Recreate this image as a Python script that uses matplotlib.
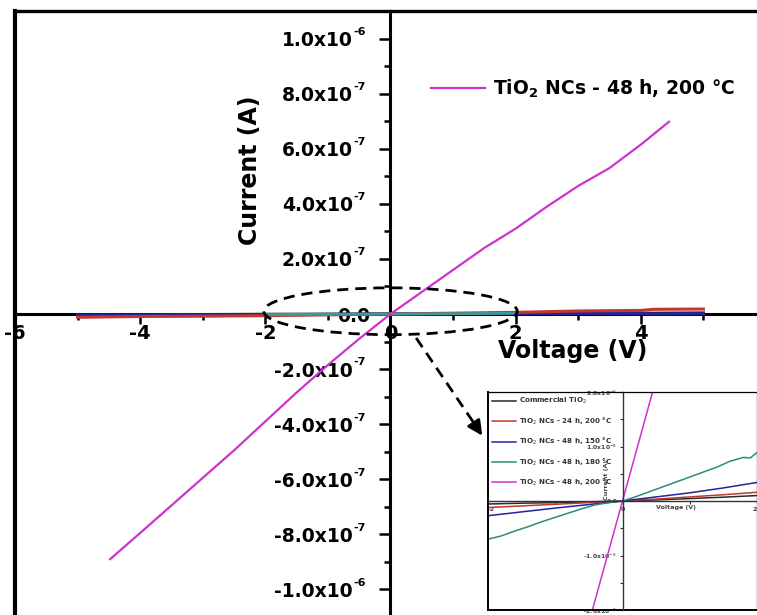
import matplotlib
matplotlib.use('Agg')
import matplotlib.pyplot as plt
from matplotlib.patches import Ellipse
from matplotlib.ticker import MultipleLocator
from matplotlib.transforms import ScaledTranslation

plt.rcParams['font.family'] = 'DejaVu Sans'
plt.rcParams['mathtext.fontset'] = 'dejavusans'

# ---------------------------------------------------------------------------
# Data (voltage in V, current in A)
# ---------------------------------------------------------------------------
# main panel
v_48h_200 = [-4.48, -4.0, -3.5, -3.0, -2.5, -2.0, -1.5, -1.0, -0.5, 0.0,
             0.5, 1.0, 1.5, 2.0, 2.5, 3.0, 3.5, 4.0, 4.45]
i_48h_200 = [-8.9e-7, -7.95e-7, -6.95e-7, -5.95e-7, -4.95e-7, -3.9e-7, -2.85e-7,
             -1.85e-7, -0.9e-7, 0.0, 0.8e-7, 1.6e-7, 2.4e-7, 3.1e-7, 3.9e-7,
             4.65e-7, 5.3e-7, 6.15e-7, 6.98e-7]

v_wide = [-5, -4, -3, -2, -1, 0, 1, 2, 3, 4, 4.2, 5]
i_commercial = [-0.3e-8, -0.25e-8, -0.2e-8, -0.1e-8, -0.05e-8, 0.0, 0.05e-8,
                0.1e-8, 0.2e-8, 0.3e-8, 0.3e-8, 0.4e-8]
i_24h_200 = [-1.2e-8, -0.9e-8, -0.8e-8, -0.6e-8, -0.3e-8, 0.0, 0.3e-8,
             0.6e-8, 1.1e-8, 1.3e-8, 1.7e-8, 1.8e-8]
i_48h_150 = [-0.6e-8, -0.5e-8, -0.4e-8, -0.3e-8, -0.15e-8, 0.0, 0.1e-8,
             0.2e-8, 0.2e-8, 0.1e-8, 0.0, 0.1e-8]

v_narrow = [-2, -1, 0, 1, 2]
i_48h_180 = [-0.2e-8, -0.1e-8, 0.0, 0.1e-8, 0.25e-8]

x_ticks = [-6, -4, -2, 0, 2, 4, 6]
x_tick_labels = ['-6', '-4', '-2', '0', '2', '4', '']
y_ticks = [-1.0e-6, -8.0e-7, -6.0e-7, -4.0e-7, -2.0e-7, 0.0,
           2.0e-7, 4.0e-7, 6.0e-7, 8.0e-7, 1.0e-6]
y_tick_mantissa = ['-1.0x10', '-8.0x10', '-6.0x10', '-4.0x10', '-2.0x10', '0.0',
                   '2.0x10', '4.0x10', '6.0x10', '8.0x10', '1.0x10']
y_tick_exponent = ['-6', '-7', '-7', '-7', '-7', '', '-7', '-7', '-7', '-7', '-6']

# inset (zoom of the low-current curves)
inset_v = [-2.0, -1.5, -1.0, -0.5, 0.0, 0.5, 1.0, 1.5, 2.0]
inset_commercial = [-0.055e-8, -0.04e-8, -0.03e-8, -0.015e-8, 0.0,
                    0.02e-8, 0.045e-8, 0.07e-8, 0.10e-8]
inset_24h_200 = [-0.12e-8, -0.09e-8, -0.06e-8, -0.03e-8, 0.0,
                 0.035e-8, 0.075e-8, 0.115e-8, 0.16e-8]
inset_48h_150 = [-0.27e-8, -0.2e-8, -0.13e-8, -0.065e-8, 0.0,
                 0.075e-8, 0.15e-8, 0.24e-8, 0.34e-8]
inset_v_180 = [-2.0, -1.8, -1.6, -1.4, -1.2, -1.0, -0.8, -0.6, -0.4, -0.2, 0.0,
               0.2, 0.4, 0.6, 0.8, 1.0, 1.2, 1.4, 1.6, 1.8, 1.9, 2.0]
inset_48h_180 = [-0.70e-8, -0.64e-8, -0.55e-8, -0.47e-8, -0.38e-8, -0.30e-8,
                 -0.22e-8, -0.14e-8, -0.07e-8, -0.03e-8, 0.0, 0.08e-8, 0.17e-8,
                 0.26e-8, 0.35e-8, 0.44e-8, 0.53e-8, 0.62e-8, 0.73e-8, 0.80e-8,
                 0.79e-8, 0.89e-8]
inset_v_200 = [-0.47, 0.0, 0.47]
inset_48h_200 = [-2.1e-8, 0.0, 2.1e-8]

inset_x_ticks = [-2, 0, 2]
inset_y_ticks = [-2.0e-8, -1.0e-8, 0.0, 1.0e-8, 2.0e-8]
inset_y_labels = ['-2.0x10$^{-8}$', '-1.0x10$^{-8}$', '0.0', '1.0x10$^{-8}$', '2.0x10$^{-8}$']

labels = ['Commercial TiO$_2$', 'TiO$_2$ NCs - 24 h, 200 °C', 'TiO$_2$ NCs - 48 h, 150 °C',
          'TiO$_2$ NCs - 48 h, 180 °C', 'TiO$_2$ NCs - 48 h, 200 °C']
main_label = 'TiO$_{\\mathbf{2}}$ NCs - 48 h, 200 °C'

COLORS = {
    'commercial': '#2a2a2a',
    '24h_200': '#c0392f',
    '48h_150': '#2323a0',
    '48h_180': '#2e8b7c',
    '48h_200': '#cc33cc',
}

fig = plt.figure(figsize=(7.57, 6.15), dpi=100)

# ---------------------------------------------------------------------------
# Main panel
# ---------------------------------------------------------------------------
ax = fig.add_axes([15 / 757, -2 / 615, 751 / 757, 606 / 615])
ax.set_xlim(-6, 6)
ax.set_ylim(-1.1e-6, 1.1e-6)

ax.plot(v_wide, i_commercial, color=COLORS['commercial'], lw=2.2, zorder=3)
ax.plot(v_wide, i_48h_150, color=COLORS['48h_150'], lw=2.2, zorder=3)
ax.plot(v_wide, i_24h_200, color=COLORS['24h_200'], lw=2.2, zorder=3)
ax.plot(v_narrow, i_48h_180, color='#3a9c98', lw=2.0, zorder=3)
main_line, = ax.plot(v_48h_200, i_48h_200, color=COLORS['48h_200'], lw=1.6, zorder=4)

for side in ('left', 'bottom'):
    ax.spines[side].set_position(('data', 0))
    ax.spines[side].set_linewidth(2.2)
ax.spines['top'].set_linewidth(2.4)
ax.spines['right'].set_linewidth(2.4)
ax.axvline(-6, color='k', lw=3.0, clip_on=False)

ax.set_xticks(x_ticks, x_tick_labels, fontsize=14, fontweight='bold')
ax.set_yticks(y_ticks, y_tick_mantissa, fontsize=13.5, fontweight='bold')
ax.xaxis.set_minor_locator(MultipleLocator(1))
ax.yaxis.set_minor_locator(MultipleLocator(1e-7))
ax.tick_params(axis='x', which='major', direction='out', length=7, width=1.8, pad=0)
ax.tick_params(axis='x', which='minor', direction='out', length=4, width=1.8)
ax.tick_params(axis='y', which='major', direction='out', length=8, width=1.8, pad=19)
ax.tick_params(axis='y', which='minor', direction='out', length=4.5, width=1.8)
for label, tick in zip(ax.get_yticklabels(), y_ticks):
    if tick == 0:
        label.set_transform(label.get_transform()
                            + ScaledTranslation(12 / 72, 0, fig.dpi_scale_trans))

# small superscript exponents next to the y tick labels
for tick, exp in zip(y_ticks, y_tick_exponent):
    if exp:
        ax.annotate(exp, xy=(0, tick), xycoords='data', xytext=(-26.6, 4.8),
                    textcoords='offset points', ha='left', va='center',
                    fontsize=8, fontweight='bold', annotation_clip=False)

ax.legend(handles=[main_line], labels=[main_label], loc='center left',
          bbox_to_anchor=(0.554, 0.872), frameon=False, handlelength=2.9,
          handletextpad=0.4, borderpad=0, borderaxespad=0,
          prop={'weight': 'bold', 'size': 13.5})

# zoom marker
ax.add_patch(Ellipse((0, 0.1e-7), width=4.05, height=1.7e-7, fill=False,
                     ec='k', lw=2.0, ls=(0, (4, 2.5)), zorder=5))
ax.plot([0.41, 1.36], [-0.87e-7, -4.05e-7], color='k', lw=2.0, ls=(0, (4, 2.5)), zorder=5)
ax.annotate('', xy=(1.49, -4.5e-7), xytext=(1.30, -3.85e-7),
            arrowprops={'arrowstyle': '-|>', 'color': 'k', 'lw': 2.0,
                        'mutation_scale': 22}, zorder=5)

fig.text(250 / 757, 1 - 170 / 615, 'Current (A)', rotation=90, ha='center', va='center',
         fontsize=17, fontweight='bold')
fig.text(573 / 757, 1 - 351 / 615, 'Voltage (V)', ha='center', va='center',
         fontsize=17, fontweight='bold')

# ---------------------------------------------------------------------------
# Inset
# ---------------------------------------------------------------------------
axi = fig.add_axes([488 / 757, 5 / 615, 269 / 757, 218 / 615])
axi.set_xlim(-2, 2)
axi.set_ylim(-2e-8, 2e-8)
axi.plot(inset_v, inset_commercial, color=COLORS['commercial'], lw=1.1, label=labels[0])
axi.plot(inset_v, inset_24h_200, color=COLORS['24h_200'], lw=1.1, label=labels[1])
axi.plot(inset_v, inset_48h_150, color=COLORS['48h_150'], lw=1.1, label=labels[2])
axi.plot(inset_v_180, inset_48h_180, color=COLORS['48h_180'], lw=1.1, label=labels[3])
axi.plot(inset_v_200, inset_48h_200, color=COLORS['48h_200'], lw=1.1, label=labels[4])

for side in ('left', 'bottom'):
    axi.spines[side].set_position(('data', 0))
    axi.spines[side].set_linewidth(1.0)
    axi.spines[side].set_color('#333333')
for side in ('top', 'right'):
    axi.spines[side].set_linewidth(0.9)
axi.axvline(-2, color='k', lw=1.4, clip_on=False)
axi.axhline(-2e-8, color='k', lw=1.4, clip_on=False)

axi.set_xticks(inset_x_ticks, [str(t) for t in inset_x_ticks], fontsize=4.6,
               fontweight='bold', color='#444444')
axi.set_yticks(inset_y_ticks, inset_y_labels, fontsize=4.4,
               fontweight='bold', color='#444444')
axi.xaxis.set_minor_locator(MultipleLocator(1))
axi.yaxis.set_minor_locator(MultipleLocator(0.5e-8))
axi.tick_params(which='both', direction='out', length=2.5, width=0.8, pad=1.5,
                color='#333333')
# keep the edge tick labels inside the figure
xl = axi.get_xticklabels()
xl[0].set_ha('left')
xl[-1].set_ha('right')

axi.text(-0.24, 0.39e-8, 'Current (A)', rotation=90, ha='center', va='center',
         fontsize=4.6, fontweight='bold', color='#444444')
axi.text(0.8, -0.12e-8, 'Voltage (V)', ha='center', va='center',
         fontsize=4.6, fontweight='bold', color='#444444')

leg = axi.legend(loc='upper left', frameon=False, handlelength=3.3, handletextpad=0.5,
                 labelspacing=1.3, borderaxespad=0.2,
                 prop={'weight': 'bold', 'size': 5.1})
for txt in leg.get_texts():
    txt.set_color('#333333')

fig.savefig('out.png', dpi=100)
